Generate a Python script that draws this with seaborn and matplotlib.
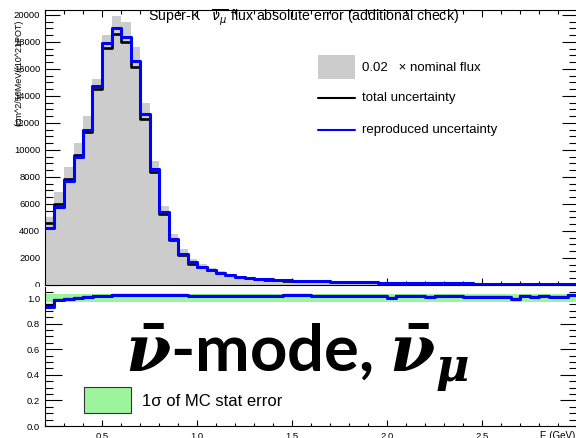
import numpy as np
import pandas as pd
import matplotlib
matplotlib.use("Agg")
import matplotlib.pyplot as plt
import seaborn as sns
from matplotlib.patches import Rectangle
from matplotlib.lines import Line2D
from matplotlib.ticker import MultipleLocator, FuncFormatter

# ---- binning (GeV) ----
bin_edges = [round(0.20 + 0.05 * k, 2) for k in range(57)]

# ---- top panel: 0.02 x nominal flux and absolute errors per bin ----
nominal_x002 = [5030, 6890, 8740, 10520, 12520, 15260, 18520, 19950, 19500, 17650,
                13480, 9190, 5850, 3780, 2640, 1900, 1530, 1230, 1000, 820,
                690, 580, 500, 450, 410, 380, 350, 330, 310, 290,
                270, 250, 235, 220, 205, 195, 185, 175, 165, 158,
                150, 143, 136, 130, 124, 118, 112, 107, 102, 97,
                92, 88, 84, 80, 76, 72]
total_unc = [4620, 6000, 7830, 9600, 11350, 14520, 17530, 18570, 17980, 16170,
             12300, 8350, 5260, 3330, 2200, 1530, 1310, 1080, 880, 720,
             600, 500, 430, 400, 360, 330, 310, 295, 280, 262,
             245, 228, 214, 200, 188, 178, 170, 160, 152, 145,
             138, 132, 126, 120, 114, 109, 104, 99, 94, 90,
             85, 81, 77, 73, 66, 60]
repro_unc = [4250, 5800, 7730, 9500, 11450, 14740, 17950, 19010, 18350, 16590,
             12640, 8590, 5430, 3410, 2300, 1680, 1360, 1110, 910, 740,
             620, 520, 440, 420, 370, 345, 320, 305, 290, 270,
             252, 235, 220, 205, 193, 182, 172, 163, 155, 148,
             141, 135, 128, 122, 116, 111, 106, 100, 95, 91,
             86, 82, 78, 75, 68, 62]

# ---- bottom panel: ratio and MC statistical error ----
ratio_repro = [0.930, 0.985, 0.990, 0.997, 1.005, 1.012, 1.018, 1.023, 1.023, 1.023,
               1.023, 1.023, 1.023, 1.023, 1.023, 1.016, 1.016, 1.016, 1.016, 1.016,
               1.016, 1.016, 1.016, 1.016, 1.016, 1.023, 1.023, 1.023, 1.016, 1.016,
               1.016, 1.016, 1.016, 1.016, 1.016, 1.016, 0.999, 1.016, 1.016, 1.016,
               1.004, 1.016, 1.016, 1.016, 1.008, 1.008, 1.008, 1.008, 1.008, 0.994,
               1.014, 1.004, 1.016, 1.008, 1.008, 1.023]
ratio_total = [0.945] + ratio_repro[1:]
mc_stat_err = [0.031] * 56

W, H = 576, 438
GRAY = "#cccccc"
BLUE = "#0000ff"
GREEN = "#9cf59c"

sns.set_style("white")
plt.rcParams["font.family"] = ["Liberation Sans", "DejaVu Sans"]
plt.rcParams["text.color"] = "black"
plt.rcParams["axes.labelcolor"] = "black"
plt.rcParams["xtick.color"] = "black"
plt.rcParams["ytick.color"] = "black"
plt.rcParams["mathtext.fontset"] = "custom"
plt.rcParams["mathtext.it"] = "DejaVu Serif:italic:bold"
plt.rcParams["mathtext.rm"] = "DejaVu Serif:bold"
plt.rcParams["mathtext.bf"] = "DejaVu Serif:bold"


def fx(px):
    return px / W


def fy(py):
    return 1 - py / H


fig = plt.figure(figsize=(W / 100, H / 100), dpi=100)
fig.patch.set_facecolor("white")

edges_arr = np.array(bin_edges)
centers = (edges_arr[:-1] + edges_arr[1:]) / 2
df = pd.DataFrame({"E": centers, "nominal": nominal_x002,
                   "total": total_unc, "repro": repro_unc})

# ---------------- top panel ----------------
x0, x1 = fx(45), fx(577)
ax1 = fig.add_axes([x0, fy(285), x1 - x0, fy(10) - fy(285)], zorder=0)
sns.histplot(data=df, x="E", weights="nominal", bins=bin_edges, element="step",
             fill=True, color=GRAY, alpha=1, linewidth=0, ax=ax1)
sns.histplot(data=df, x="E", weights="total", bins=bin_edges, element="step",
             fill=False, color="black", linewidth=1.9, ax=ax1)
sns.histplot(data=df, x="E", weights="repro", bins=bin_edges, element="step",
             fill=False, color=BLUE, linewidth=2.2, ax=ax1)
ax1.set_xlim(0.2, 3.0)
ax1.set_ylim(0, 20370)
ax1.set_xlabel("")
ax1.set_ylabel("")
ax1.xaxis.set_major_locator(MultipleLocator(0.5))
ax1.xaxis.set_minor_locator(MultipleLocator(0.1))
ax1.yaxis.set_major_locator(MultipleLocator(2000))
ax1.yaxis.set_minor_locator(MultipleLocator(500))
ax1.yaxis.set_major_formatter(FuncFormatter(lambda v, p: f"{int(round(v))}"))
ax1.tick_params(axis="x", which="both", direction="in", top=True, bottom=True,
                labelbottom=False, width=0.8, color="black")
ax1.tick_params(axis="x", which="major", length=5)
ax1.tick_params(axis="x", which="minor", length=3)
ax1.tick_params(axis="y", which="both", direction="in", left=True, right=True,
                width=0.8, color="black", labelsize=6.8, pad=3.5)
ax1.tick_params(axis="y", which="major", length=11)
ax1.tick_params(axis="y", which="minor", length=5.5)
for s in ax1.spines.values():
    s.set_linewidth(0.8)
    s.set_color("black")

# white pad covering the lower area (hides the clipped zero label)
fig.add_artist(Rectangle((0, 0), 1, fy(287), transform=fig.transFigure,
                         facecolor="white", edgecolor="none", zorder=0.5))

# ---------------- bottom panel ----------------
ax2 = fig.add_axes([x0, fy(426), x1 - x0, fy(287) - fy(426)], zorder=1)
ax2.patch.set_alpha(0)
lo = [1 - e for e in mc_stat_err]
hi = [1 + e for e in mc_stat_err]
ax2.fill_between(bin_edges, lo + lo[-1:], hi + hi[-1:], step="post",
                 color=GREEN, linewidth=0)
sns.lineplot(x=bin_edges, y=ratio_total + ratio_total[-1:],
             drawstyle="steps-post", color="black", linewidth=1.6, ax=ax2)
sns.lineplot(x=bin_edges, y=ratio_repro + ratio_repro[-1:],
             drawstyle="steps-post", color=BLUE, linewidth=2.2, ax=ax2)
ax2.set_xlim(0.2, 3.0)
ax2.set_ylim(0, 1.086)
ax2.set_xlabel("")
ax2.set_ylabel("")
ax2.xaxis.set_major_locator(MultipleLocator(0.5))
ax2.xaxis.set_minor_locator(MultipleLocator(0.1))
ax2.xaxis.set_major_formatter(FuncFormatter(lambda v, p: "" if v > 2.9 else f"{v:.1f}"))
ax2.yaxis.set_major_locator(MultipleLocator(0.2))
ax2.yaxis.set_minor_locator(MultipleLocator(0.05))
ax2.yaxis.set_major_formatter(FuncFormatter(lambda v, p: f"{v:.1f}"))
ax2.tick_params(axis="x", which="both", direction="in", bottom=True, top=False,
                width=0.8, color="black", labelsize=6.8, pad=4)
ax2.tick_params(axis="x", which="major", length=4.5)
ax2.tick_params(axis="x", which="minor", length=2.5)
ax2.tick_params(axis="y", which="both", direction="in", left=True, right=True,
                width=0.8, color="black", labelsize=6.8, pad=3.5)
ax2.tick_params(axis="y", which="major", length=12)
ax2.tick_params(axis="y", which="minor", length=5.8)
ax2.spines["top"].set_visible(False)
for s in ax2.spines.values():
    s.set_linewidth(0.8)
    s.set_color("black")

# ---------------- texts ----------------
fig.text(fx(148), fy(18), r"Super-K   $\overline{\nu_{\mu}}$ flux absolute error (additional check)",
         fontsize=10.2, ha="left", va="center", math_fontfamily="dejavusans",
         color="black", zorder=5)
fig.text(fx(19), fy(73), "(cm^2/50MeV/(10^21POT)", rotation=90, fontsize=6.5,
         ha="center", va="center", color="black", zorder=5)
fig.text(fx(540), fy(431), "E (GeV)", fontsize=7, ha="left", va="top",
         color="black", zorder=5)

# legend, top panel
fig.add_artist(Rectangle((fx(318), fy(79)), fx(355) - fx(318), fy(55) - fy(79),
                         transform=fig.transFigure, facecolor=GRAY, edgecolor="none", zorder=5))
fig.text(fx(362), fy(68), "0.02   \u00d7 nominal flux", fontsize=9.5, ha="left",
         va="center", color="black", zorder=5)
fig.add_artist(Line2D([fx(318), fx(355)], [fy(98), fy(98)], transform=fig.transFigure,
                      color="black", linewidth=1.5, zorder=5))
fig.text(fx(362), fy(98), "total uncertainty", fontsize=9.5, ha="left", va="center",
         color="black", zorder=5)
fig.add_artist(Line2D([fx(318), fx(355)], [fy(130), fy(130)], transform=fig.transFigure,
                      color=BLUE, linewidth=1.5, zorder=5))
fig.text(fx(362), fy(130), "reproduced uncertainty", fontsize=9.5, ha="left",
         va="center", color="black", zorder=5)

# legend, bottom panel
fig.add_artist(Rectangle((fx(84), fy(413)), fx(131) - fx(84), fy(387) - fy(413),
                         transform=fig.transFigure, facecolor=GREEN, edgecolor="#333333",
                         linewidth=0.8, zorder=5))
fig.text(fx(142), fy(401), "1\u03c3 of MC stat error", fontsize=12, ha="left",
         va="center", color="black", zorder=5)

# mode annotation
fig.text(fx(125), fy(372), r"$\bar{\nu}$-mode, $\bar{\nu}_{\mu}$", fontsize=47,
         fontweight="bold", family=["Lato", "DejaVu Sans"], ha="left", va="baseline",
         math_fontfamily="custom", color="black", zorder=6)

fig.savefig("out.png", dpi=100)
